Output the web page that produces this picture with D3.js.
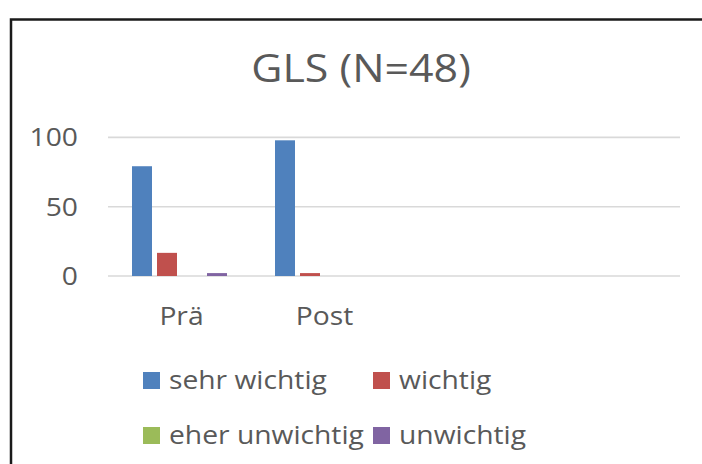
<!DOCTYPE html>
<html>
<head>
<meta charset="utf-8">
<script src="https://cdn.jsdelivr.net/npm/d3@7"></script>
<style>
  body { margin: 0; background: #fff; }
  text { font-family: "Open Sans", sans-serif; fill: #595959; }
</style>
</head>
<body>
<div class="fig"></div>
<script>
// data (percent)
var categories = ["Prä", "Post", "", ""];
var seriesNames = ["sehr wichtig", "wichtig", "eher unwichtig", "unwichtig"];
var sehrWichtig = [79.2, 97.9];
var wichtig = [16.7, 2.1];
var eherUnwichtig = [0, 0];
var unwichtig = [2.1, 0];
var yTicks = [0, 50, 100];
var colors = ["#4f81bd", "#c0504d", "#9bbb59", "#8064a2"];

var seriesValues = [sehrWichtig, wichtig, eherUnwichtig, unwichtig];

// the original text is a bit wider than Open Sans, stretch it
var sx = 1.13;
function place(x, y) { return "translate(" + x + "," + y + ") scale(" + sx + ",1)"; }

const svg = d3.select(".fig")
              .append("svg")
              .attr("width", 702)
              .attr("height", 464)

// frame
svg.append("rect")
   .attr("x", 11).attr("y", 19.5)
   .attr("width", 720).attr("height", 480)
   .attr("fill", "none")
   .attr("stroke", "#1a1a1a")
   .attr("stroke-width", 2.5);

svg.append("text")
   .attr("transform", place(361, 82))
   .attr("text-anchor", "middle")
   .style("font-size", "38px")
   .text("GLS (N=48)");

var x0 = d3.scaleBand()
           .domain(d3.range(categories.length))
           .range([108, 680])
           .padding(0);
var x1 = d3.scaleBand()
           .domain(seriesNames)
           .range([0, x0.bandwidth()])
           .paddingInner(0.2)
           .paddingOuter(0.96);
var y = d3.scaleLinear()
          .domain([0, 100])
          .range([276, 137.4]);

// gridlines
svg.append("g")
   .selectAll("line")
   .data(yTicks)
   .enter().append("line")
   .attr("x1", 108).attr("x2", 680)
   .attr("y1", d => y(d)).attr("y2", d => y(d))
   .attr("stroke", "#d9d9d9")
   .attr("stroke-width", 1.6);

svg.append("g")
   .selectAll("text")
   .data(yTicks)
   .enter().append("text")
   .attr("transform", d => place(78, y(d)))
   .attr("dy", "0.36em")
   .attr("text-anchor", "end")
   .style("font-size", "25px")
   .text(d => d);

// bars
var bars = [];
seriesValues.forEach(function(vals, s) {
  vals.forEach(function(v, c) {
    if (v > 0) bars.push({ cat: c, series: seriesNames[s], value: v, color: colors[s] });
  });
});

svg.append("g")
   .selectAll("rect")
   .data(bars)
   .enter().append("rect")
   .attr("x", d => x0(d.cat) + x1(d.series))
   .attr("y", d => y(d.value))
   .attr("width", x1.bandwidth())
   .attr("height", d => y(0) - y(d.value))
   .attr("fill", d => d.color);

svg.append("g")
   .selectAll("text")
   .data(categories)
   .enter().append("text")
   .attr("transform", (d, i) => place(x0(i) + x0.bandwidth() / 2 + 2, 325))
   .attr("text-anchor", "middle")
   .style("font-size", "25px")
   .text(d => d);

// legend
var legPos = [[143, 372], [373, 372], [143, 427], [373, 427]];
var leg = svg.append("g")
   .selectAll("g")
   .data(seriesNames)
   .enter().append("g")
   .attr("transform", (d, i) => "translate(" + legPos[i][0] + "," + legPos[i][1] + ")");

leg.append("rect")
   .attr("width", 17).attr("height", 17)
   .attr("fill", (d, i) => colors[i]);

leg.append("text")
   .attr("transform", place(26, 17))
   .style("font-size", "25px")
   .text(d => d);
</script>
</body>
</html>
